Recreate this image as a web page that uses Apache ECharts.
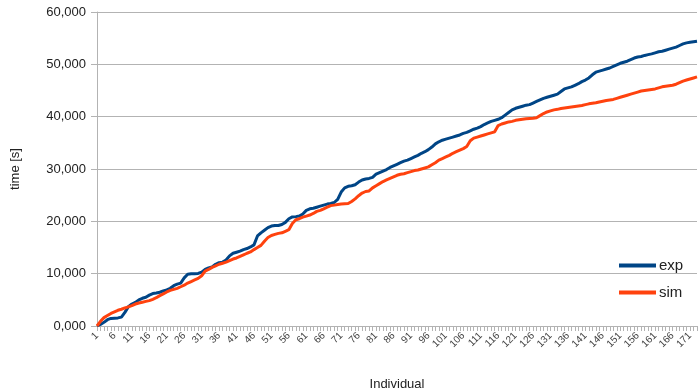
<!DOCTYPE html>
<html>
<head>
<meta charset="utf-8">
<script src="https://cdn.jsdelivr.net/npm/echarts@6/dist/echarts.min.js"></script>
<style>html,body{margin:0;padding:0;background:#fff}#c{width:698px;height:392px}</style>
</head>
<body>
<div id="c"></div>
<script>
const categories = Array.from({length: 173}, (_, k) => String(k + 1));
const yTicks = [0, 10000, 20000, 30000, 40000, 50000, 60000];
const expValues = [
0,300,700,1200,1450,1500,1550,1700,2600,3700,
4200,4500,5000,5300,5500,5900,6200,6300,6450,6700,
6900,7200,7700,8000,8200,9200,9900,10000,10000,10050,
10300,10800,11100,11300,11800,12100,12200,12600,13400,13900,
14100,14300,14600,14800,15100,15500,17200,17800,18300,18800,
19100,19200,19200,19400,19800,20500,20850,20900,21000,21400,
22100,22400,22500,22700,22900,23100,23300,23400,23600,24200,
25600,26400,26700,26800,27000,27500,27900,28100,28200,28400,
29000,29300,29600,29900,30300,30600,30900,31200,31500,31700,
32000,32300,32600,33000,33300,33700,34200,34800,35200,35500,
35700,35900,36100,36300,36500,36800,37000,37300,37600,37800,
38100,38500,38800,39100,39300,39500,39800,40300,40800,41300,
41600,41800,42000,42200,42300,42600,42900,43200,43500,43700,
43900,44100,44300,44800,45300,45500,45700,46000,46300,46700,
47000,47400,48000,48500,48700,48900,49100,49300,49600,49900,
50200,50400,50600,50900,51200,51400,51500,51700,51850,52000,
52200,52400,52500,52700,52900,53100,53300,53600,53900,54100,
54200,54300,54400];
const simValues = [
0,900,1600,2000,2400,2700,3000,3200,3450,3650,
3900,4200,4400,4550,4700,4850,5100,5400,5800,6150,
6500,6800,7000,7200,7500,7800,8200,8500,8800,9100,
9600,10500,10800,11200,11500,11800,12000,12200,12500,12800,
13000,13300,13600,13900,14150,14600,15000,15400,16200,16900,
17300,17500,17700,17800,18100,18400,19600,20300,20500,20800,
21000,21200,21500,21900,22100,22400,22700,23000,23100,23200,
23300,23350,23400,23800,24300,24900,25400,25700,25800,26400,
26800,27200,27600,27900,28200,28500,28800,29000,29100,29300,
29500,29700,29800,30000,30200,30400,30800,31200,31700,32000,
32300,32600,33000,33300,33600,33900,34300,35400,35900,36100,
36300,36500,36700,36900,37100,38300,38600,38800,39000,39100,
39300,39400,39500,39600,39650,39700,39800,40200,40600,40900,
41100,41300,41400,41550,41650,41750,41850,41950,42050,42150,
42300,42450,42550,42650,42800,42950,43100,43200,43300,43500,
43700,43900,44100,44300,44500,44700,44900,45000,45100,45200,
45300,45500,45700,45800,45900,46000,46200,46500,46800,47000,
47200,47400,47600];

function fmt(v) {
  if (v === 0) return '0,000';
  const s = String(Math.round(v));
  return s.replace(/\B(?=(\d{3})+(?!\d))/g, ',');
}

const chart = echarts.init(document.getElementById('c'), null, {renderer: 'canvas'});
chart.setOption({
  animation: false,
  backgroundColor: '#ffffff',
  textStyle: {fontFamily: 'Liberation Sans, Arial, sans-serif'},
  grid: {left: 97, right: 1, top: 12, bottom: 66, containLabel: false, outerBoundsMode: 'none'},
  legend: {
    orient: 'vertical',
    left: 614,
    top: 253,
    itemWidth: 37,
    itemHeight: 14,
    itemGap: 12,
    icon: 'path://M0,0 L37,0 L37,4 L0,4 Z',
    textStyle: {fontSize: 15, color: '#222', fontFamily: 'Liberation Sans, Arial, sans-serif', padding: [0,0,0,-2]},
    data: ['exp', 'sim']
  },
  xAxis: {
    type: 'category',
    data: categories,
    boundaryGap: false,
    name: 'Individual',
    nameLocation: 'middle',
    nameGap: 52,
    nameTextStyle: {fontSize: 13, color: '#222'},
    axisLine: {lineStyle: {color: '#b3b3b3', width: 1}},
    axisTick: {show: true, interval: 0, length: 5, lineStyle: {color: '#b3b3b3'}},
    axisLabel: {interval: 4, rotate: 45, fontSize: 10, color: '#444', margin: 8},
    splitLine: {show: false}
  },
  yAxis: {
    type: 'value',
    min: yTicks[0],
    max: yTicks[yTicks.length - 1],
    interval: 10000,
    name: 'time [s]',
    nameLocation: 'middle',
    nameGap: 75,
    nameRotate: 90,
    nameTextStyle: {fontSize: 13, color: '#222'},
    axisLine: {show: true, lineStyle: {color: '#b3b3b3'}},
    axisTick: {show: true, length: 6, lineStyle: {color: '#b3b3b3'}},
    axisLabel: {formatter: fmt, fontSize: 13, color: '#222', margin: 11},
    splitLine: {show: true, lineStyle: {color: '#b3b3b3', width: 1}}
  },
  series: [
    {name: 'exp', type: 'line', data: expValues, showSymbol: false, symbol: 'none',
     lineStyle: {color: '#004586', width: 3}, itemStyle: {color: '#004586'}},
    {name: 'sim', type: 'line', data: simValues, showSymbol: false, symbol: 'none',
     lineStyle: {color: '#ff420e', width: 3}, itemStyle: {color: '#ff420e'}}
  ]
});
</script>
</body>
</html>
